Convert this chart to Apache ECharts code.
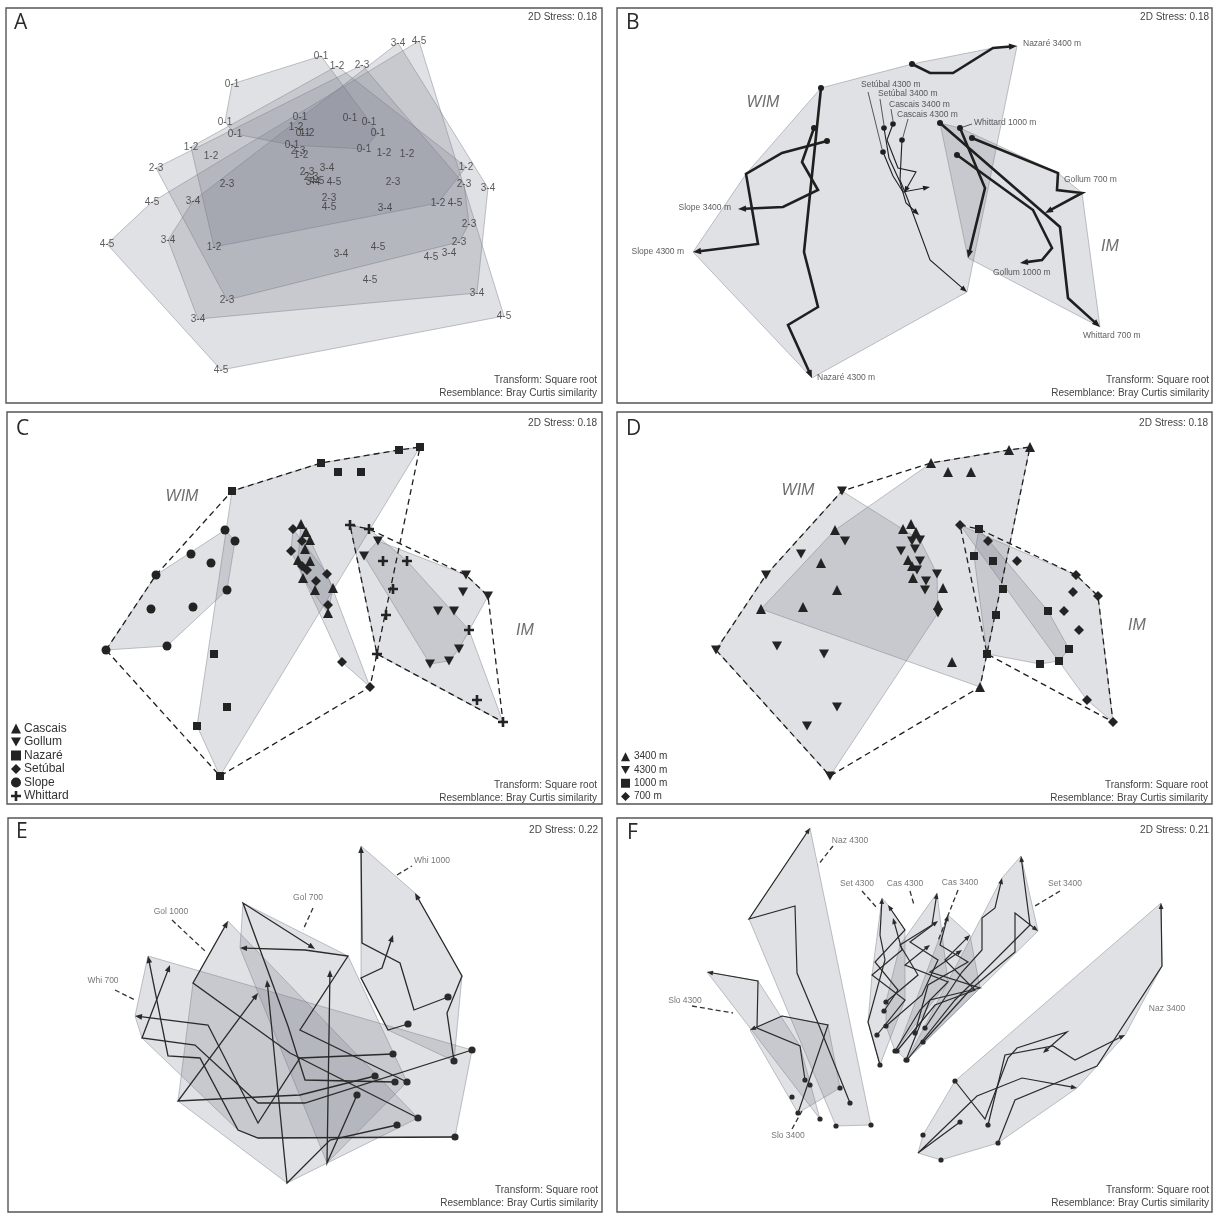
<!DOCTYPE html>
<html><head><meta charset="utf-8">
<script src="https://cdn.jsdelivr.net/npm/echarts@6/dist/echarts.min.js"></script>
<style>html,body{margin:0;padding:0;background:#fff}#c{width:1215px;height:1214px}</style>
</head><body><div id="c"></div><script>
// ---------------- DATA (ordination coordinates) ----------------
// Panel A: sediment layer labels
const A_GROUPS = ['0-1','1-2','2-3','3-4','4-5'];
const A_01 = [[232,84],[225,122],[235,134],[321,56],[350,118],[369,122],[378,133],[364,149],[300,117],[292,145],[303,133]];
const A_12 = [[191,147],[211,156],[214,247],[337,66],[384,153],[407,154],[466,167],[438,203],[296,127],[301,155],[307,133]];
const A_23 = [[156,168],[227,184],[227,300],[362,65],[393,182],[464,184],[469,224],[459,242],[329,198],[298,151],[307,172],[311,177]];
const A_34 = [[193,201],[168,240],[198,319],[398,43],[327,168],[385,208],[488,188],[449,253],[341,254],[477,293],[313,182]];
const A_45 = [[152,202],[107,244],[221,370],[419,41],[334,182],[329,207],[455,203],[431,257],[378,247],[370,280],[504,316],[317,181]];

// Panel B: trajectories (0-1 -> 4-5)
const B_NAMES = ['Nazaré 3400 m','Nazaré 4300 m','Slope 3400 m','Slope 4300 m','Setúbal 3400 m','Setúbal 4300 m','Cascais 3400 m','Cascais 4300 m','Gollum 700 m','Gollum 1000 m','Whittard 700 m','Whittard 1000 m'];
const B_NAZ3400 = [[912,64],[930,73],[953,73],[993,48],[1017,46]];
const B_NAZ4300 = [[821,88],[804,252],[818,307],[788,325],[812,378]];
const B_SLO3400 = [[814,128],[802,162],[818,190],[783,207],[738,209]];
const B_SLO4300 = [[827,141],[782,153],[746,174],[758,244],[693,252]];
const B_SET3400 = [[884,128],[889,158],[900,182],[906,203],[919,215]];
const B_SET4300 = [[883,152],[893,176],[903,192],[930,187]];
const B_CAS3400 = [[893,124],[887,140],[898,168],[916,172],[904,193]];
const B_CAS4300 = [[902,140],[900,180],[908,200],[930,260],[967,292]];
const B_GOL700 = [[972,138],[1058,173],[1057,190],[1082,193],[1045,213]];
const B_GOL1000 = [[957,155],[1033,210],[1052,248],[1042,260],[1020,263]];
const B_WHI700 = [[940,123],[1060,227],[1068,298],[1100,327]];
const B_WHI1000 = [[960,128],[985,188],[968,258]];
const B_LABEL_AT = [[1023,44],[817,378],[731,208],[684,252],[878,94],[861,85],[889,105],[897,115],[1064,180],[993,273],[1083,336],[974,123]];
const B_LEADERS = [[[868,92],[882,149]],[[880,99],[884,125]],[[891,109],[893,121]],[[908,119],[903,137]],[[972,124],[963,127]]];

// Panels C & D: sample points by site and depth
const CD_SLO_3400 = [[225,530],[211,563],[227,590],[151,609],[193,607]];
const CD_SLO_4300 = [[235,541],[191,554],[156,575],[106,650],[167,646]];
const CD_NAZ_3400 = [[321,463],[338,472],[361,472],[399,450],[420,447]];
const CD_NAZ_4300 = [[232,491],[214,654],[227,707],[197,726],[220,776]];
const CD_CAS_3400 = [[301,524],[298,560],[333,588],[306,532],[303,578]];
const CD_CAS_4300 = [[310,540],[310,561],[315,590],[328,613],[305,549]];
const CD_SET_3400 = [[293,529],[302,566],[328,605],[342,662],[370,687]];
const CD_SET_4300 = [[302,541],[291,551],[327,574],[316,581],[307,570]];
const CD_GOL_700 = [[378,541],[466,575],[463,592],[488,596],[454,611]];
const CD_GOL_1000 = [[364,556],[438,611],[459,649],[430,664],[449,661]];
const CD_WHI_700 = [[350,525],[407,561],[469,630],[477,700],[503,722]];
const CD_WHI_1000 = [[369,529],[383,561],[393,589],[386,615],[377,654]];
const C_SITES = ['Cascais','Gollum','Nazaré','Setúbal','Slope','Whittard'];
const D_DEPTHS = ['3400 m','4300 m','1000 m','700 m'];

// Panel E: trajectories per canyon/depth
const E_GROUPS = ['Whi 1000','Gol 700','Gol 1000','Whi 700'];
const E_WHI1000 = [[[454,1061],[447,1013],[462,976],[453,960],[415,893]],[[448,997],[414,1010],[400,963],[362,943],[361,846]],[[408,1024],[388,1030],[361,978],[382,968],[393,935]]];
const E_GOL700 = [[[395,1082],[305,1080],[288,1026],[243,903],[315,949]],[[407,1082],[300,1030],[348,956],[305,950],[240,948]],[[357,1095],[327,1163],[330,970]]];
const E_GOL1000 = [[[418,1118],[290,1053],[193,983],[228,921]],[[375,1076],[300,1095],[178,1101],[258,993]],[[397,1125],[330,1140],[287,1183],[267,980]]];
const E_WHI700 = [[[455,1137],[258,1138],[238,1130],[200,1058],[168,1056],[148,956]],[[472,1050],[305,1103],[258,1103],[195,1045],[142,1038],[170,965]],[[393,1054],[300,1058],[258,1123],[208,1025],[135,1016]]];
const E_LABEL_AT = [[432,861],[308,898],[171,912],[103,981]];
const E_LEADERS = [[[397,875],[412,866]],[[313,908],[303,930]],[[172,920],[205,951]],[[115,990],[135,1000]]];

// Panel F
const F_GROUPS = ['Naz 4300','Set 4300','Cas 4300','Cas 3400','Set 3400','Slo 4300','Slo 3400','Naz 3400'];
const F_NAZ4300 = [[[850,1103],[818,1023],[797,973],[795,906],[749,919],[810,828]],[[836,1126]],[[871,1125]]];
const F_SET4300 = [[[880,1065],[868,1022],[885,960],[880,935],[882,898]],[[877,1035],[905,1000],[872,975],[902,950],[893,918]],[[884,1011],[898,990],[875,962],[905,930],[888,905]]];
const F_CAS4300 = [[[886,1002],[918,975],[900,945],[932,925],[937,893]],[[886,1026],[922,995],[938,960],[910,942],[938,921]],[[895,1051],[920,1010],[948,982],[905,965],[930,945]]];
const F_CAS3400 = [[[897,1051],[935,1005],[975,990],[945,960],[970,935]],[[906,1060],[930,1000],[980,988],[930,972],[962,950]],[[915,1033],[928,985],[968,962],[940,945],[948,915]]];
const F_SET3400 = [[[925,1028],[962,972],[982,950],[982,918],[995,908],[1002,878]],[[923,1042],[970,990],[1015,952],[1015,913],[1038,931]],[[907,1060],[955,1000],[1000,955],[1030,925],[1021,856]]];
const F_SLO4300 = [[[805,1080],[800,1046],[757,1028],[758,981],[707,972]],[[810,1085]],[[820,1119]]];
const F_SLO3400 = [[[798,1113],[828,1025],[782,1016],[750,1030]],[[792,1097]],[[840,1088]]];
const F_NAZ3400 = [[[998,1143],[1015,1100],[1097,1066],[1162,966],[1161,903]],[[960,1122],[918,1153],[977,1096],[1022,1078],[1077,1088]],[[955,1081],[985,1119],[1008,1058],[1017,1048],[1067,1032],[1043,1053]],[[988,1125],[1005,1055],[1053,1046],[1075,1060],[1125,1035]],[[941,1160]],[[923,1135]]];
const F_LABEL_AT = [[850,841],[857,884],[905,884],[960,883],[1065,884],[685,1001],[788,1136],[1167,1009]];
const F_LEADERS = [[[833,846],[818,865]],[[862,891],[877,908]],[[910,891],[914,905]],[[958,890],[938,941]],[[1060,891],[1035,906]],[[692,1006],[733,1013]],[[792,1129],[802,1111]]];

const STRESS = ['0.18','0.18','0.18','0.18','0.22','0.21'];

// ---------------- STYLE / HELPERS ----------------
const FONT = "'Liberation Sans', Arial, sans-serif";
const HULL = {fill:'rgba(112,118,134,0.22)', stroke:'rgba(120,125,138,0.45)', lineWidth:1};
const DASH = {fill:'none', stroke:'#1e1e1e', lineWidth:1.3, lineDash:[6,4]};
const INK = '#232323';

function convexHull(points){
  const p = points.map(q=>q.slice()).sort((a,b)=>a[0]-b[0]||a[1]-b[1]);
  const cross=(o,a,b)=>(a[0]-o[0])*(b[1]-o[1])-(a[1]-o[1])*(b[0]-o[0]);
  const lo=[],up=[];
  for(const q of p){while(lo.length>=2&&cross(lo[lo.length-2],lo[lo.length-1],q)<=0)lo.pop();lo.push(q);}
  for(let i=p.length-1;i>=0;i--){const q=p[i];while(up.length>=2&&cross(up[up.length-2],up[up.length-1],q)<=0)up.pop();up.push(q);}
  up.pop();lo.pop();return lo.concat(up);
}
const flat = arr => arr.reduce((a,b)=>a.concat(b),[]);

const grids=[], xAxes=[], yAxes=[], series=[];
function panel(box, xr, yr){
  const i=grids.length;
  grids.push({left:box[0],top:box[1],width:box[2],height:box[3],show:true,borderColor:'#555',borderWidth:1.4,backgroundColor:'#fff'});
  xAxes.push({type:'value',gridIndex:i,min:xr[0],max:xr[1],show:false});
  yAxes.push({type:'value',gridIndex:i,min:yr[0],max:yr[1],inverse:true,show:false});
  return i;
}
function polySeries(gi, pts, style, z){
  const hull = convexHull(pts);
  return {type:'custom',xAxisIndex:gi,yAxisIndex:gi,silent:true,z:z||2,animation:false,
    data:[hull[0]],
    renderItem:(p,api)=>({type:'polygon',shape:{points:hull.map(q=>api.coord(q))},style:Object.assign({},style)})};
}
function trajSeries(gi, paths, o){
  return {type:'custom',xAxisIndex:gi,yAxisIndex:gi,silent:true,z:o.z||5,animation:false,
    data:paths.map((p,k)=>[p[0][0],p[0][1],k]),
    renderItem:(params,api)=>{
      const pts = paths[params.dataIndex].map(q=>api.coord(q));
      const ch=[];
      if(pts.length>1){
        const a=pts[pts.length-2], b=pts[pts.length-1];
        const ang=Math.atan2(b[1]-a[1],b[0]-a[0]);
        const L=o.arrowL, W=o.arrowW;
        const bx=b[0]-L*Math.cos(ang), by=b[1]-L*Math.sin(ang);
        const line=pts.slice(0,-1).concat([[bx+1.5*Math.cos(ang),by+1.5*Math.sin(ang)]]);
        ch.push({type:'polyline',shape:{points:line},style:{stroke:o.color,lineWidth:o.width,fill:null,lineJoin:'miter'}});
        ch.push({type:'polygon',shape:{points:[b,[bx+W*Math.sin(ang),by-W*Math.cos(ang)],[bx-W*Math.sin(ang),by+W*Math.cos(ang)]]},style:{fill:o.color}});
      }
      ch.push({type:'circle',shape:{cx:pts[0][0],cy:pts[0][1],r:o.dot},style:{fill:o.color}});
      return {type:'group',children:ch};
    }};
}
function leaderSeries(gi, segs, style){
  return {type:'custom',xAxisIndex:gi,yAxisIndex:gi,silent:true,z:6,animation:false,
    data:segs.map(s=>s[0]),
    renderItem:(params,api)=>{const s=segs[params.dataIndex];const a=api.coord(s[0]),b=api.coord(s[1]);
      return {type:'line',shape:{x1:a[0],y1:a[1],x2:b[0],y2:b[1]},style:Object.assign({},style)};}};
}
function textSeries(gi, pts, texts, o){
  return {type:'scatter',xAxisIndex:gi,yAxisIndex:gi,silent:true,z:o.z||10,animation:false,
    symbolSize:1,itemStyle:{color:'rgba(0,0,0,0)'},
    data:pts.map((p,i)=>{const d={name:texts[i],value:p}; if(o.aligns) d.label={align:o.aligns[i]}; return d;}),
    label:{show:true,position:'inside',formatter:pp=>pp.name,align:o.align||'center',verticalAlign:'middle',
      fontSize:o.size,fontFamily:o.font||FONT,color:o.color||'#333',fontStyle:o.style||'normal'},
    labelLayout:{hideOverlap:false},emphasis:{disabled:true}};
}
function scatterSeries(gi, name, pts, symbol, size){
  return {type:'scatter',name:name,xAxisIndex:gi,yAxisIndex:gi,z:8,animation:false,
    symbol:symbol,symbolSize:size,itemStyle:{color:INK,opacity:1},data:pts,emphasis:{disabled:true}};
}

// ---------------- PANELS ----------------
// A
const gA = panel([6,8,596,395],[6,602],[8,403]);
const A_SETS=[A_01,A_12,A_23,A_34,A_45];
A_SETS.forEach(s=>series.push(polySeries(gA,s,HULL)));
A_SETS.forEach((s,i)=>series.push(textSeries(gA,s,s.map(()=>A_GROUPS[i]),{size:10,color:'#333'})));

// B
const gB = panel([617,8,595,395],[617,1212],[8,403]);
const B_PATHS=[B_NAZ3400,B_NAZ4300,B_SLO3400,B_SLO4300,B_SET3400,B_SET4300,B_CAS3400,B_CAS4300,B_GOL700,B_GOL1000,B_WHI700,B_WHI1000];
series.push(polySeries(gB,flat(B_PATHS.slice(0,8)),HULL));
series.push(polySeries(gB,flat(B_PATHS.slice(8)),HULL));
series.push(trajSeries(gB,[B_NAZ3400,B_NAZ4300,B_SLO3400,B_SLO4300,B_GOL700,B_GOL1000,B_WHI700,B_WHI1000],{color:'#1f1f1f',width:2.6,dot:3,arrowL:8,arrowW:3.2}));
series.push(trajSeries(gB,[B_SET3400,B_SET4300,B_CAS3400,B_CAS4300],{color:'#1f1f1f',width:1.1,dot:2.8,arrowL:7,arrowW:2.6}));
series.push(leaderSeries(gB,B_LEADERS,{stroke:'#333',lineWidth:0.8}));
series.push(textSeries(gB,B_LABEL_AT,B_NAMES,{size:8.5,color:'#333',aligns:['left','left','right','right','left','left','left','left','left','left','left','left']}));
series.push(textSeries(gB,[[763,103],[1110,247]],['WIM','IM'],{size:16,color:'#4a4a4a',style:'italic'}));

// C
const gC = panel([7,412,595,392],[7,602],[412,804]);
const C_PTS = {
  'Cascais': CD_CAS_3400.concat(CD_CAS_4300),
  'Gollum': CD_GOL_700.concat(CD_GOL_1000),
  'Nazaré': CD_NAZ_3400.concat(CD_NAZ_4300),
  'Setúbal': CD_SET_3400.concat(CD_SET_4300),
  'Slope': CD_SLO_3400.concat(CD_SLO_4300),
  'Whittard': CD_WHI_700.concat(CD_WHI_1000)
};
const SYM = {
  up:['triangle',10], down:['path://M0,0L10,0L5,9Z',[10,9]], sq:['rect',8], dia:['diamond',10], dot:['circle',9],
  plus:['path://M3.7,0H6.3V3.7H10V6.3H6.3V10H3.7V6.3H0V3.7H3.7Z',10]
};
const C_SYM = {'Cascais':SYM.up,'Gollum':SYM.down,'Nazaré':SYM.sq,'Setúbal':SYM.dia,'Slope':SYM.dot,'Whittard':SYM.plus};
const WIM_PTS = flat([CD_SLO_3400,CD_SLO_4300,CD_NAZ_3400,CD_NAZ_4300,CD_CAS_3400,CD_CAS_4300,CD_SET_3400,CD_SET_4300]);
const IM_PTS = flat([CD_GOL_700,CD_GOL_1000,CD_WHI_700,CD_WHI_1000]);
C_SITES.forEach(s=>series.push(polySeries(gC,C_PTS[s],HULL)));
series.push(polySeries(gC,WIM_PTS,DASH,3));
series.push(polySeries(gC,IM_PTS,DASH,3));
C_SITES.forEach(s=>series.push(scatterSeries(gC,s,C_PTS[s],C_SYM[s][0],C_SYM[s][1])));
series.push(textSeries(gC,[[182,497],[525,631]],['WIM','IM'],{size:16,color:'#4a4a4a',style:'italic'}));

// D (same ordination as C)
const gD = panel([617,412,595,392],[7,602],[412,804]);
const D_PTS = {
  '3400 m': flat([CD_SLO_3400,CD_NAZ_3400,CD_CAS_3400,CD_SET_3400]),
  '4300 m': flat([CD_SLO_4300,CD_NAZ_4300,CD_CAS_4300,CD_SET_4300]),
  '1000 m': CD_GOL_1000.concat(CD_WHI_1000),
  '700 m': CD_GOL_700.concat(CD_WHI_700)
};
const D_SYM = {'3400 m':SYM.up,'4300 m':SYM.down,'1000 m':SYM.sq,'700 m':SYM.dia};
D_DEPTHS.forEach(d=>series.push(polySeries(gD,D_PTS[d],HULL)));
series.push(polySeries(gD,WIM_PTS,DASH,3));
series.push(polySeries(gD,IM_PTS,DASH,3));
D_DEPTHS.forEach(d=>series.push(scatterSeries(gD,d,D_PTS[d],D_SYM[d][0],D_SYM[d][1])));
series.push(textSeries(gD,[[188,491],[527,626]],['WIM','IM'],{size:16,color:'#4a4a4a',style:'italic'}));

// E
const gE = panel([8,818,594,394],[8,602],[818,1212]);
const E_SETS=[E_WHI1000,E_GOL700,E_GOL1000,E_WHI700];
E_SETS.forEach(s=>series.push(polySeries(gE,flat(s),HULL)));
E_SETS.forEach(s=>series.push(trajSeries(gE,s,{color:'#2a2a2a',width:1.3,dot:3.6,arrowL:7,arrowW:2.8})));
series.push(leaderSeries(gE,E_LEADERS,{stroke:'#333',lineWidth:1.3,lineDash:[5,3]}));
series.push(textSeries(gE,E_LABEL_AT,E_GROUPS,{size:8.5,color:'#555'}));

// F
const gF = panel([617,818,595,394],[617,1212],[818,1212]);
const F_SETS=[F_NAZ4300,F_SET4300,F_CAS4300,F_CAS3400,F_SET3400,F_SLO4300,F_SLO3400,F_NAZ3400];
F_SETS.forEach(s=>series.push(polySeries(gF,flat(s),HULL)));
F_SETS.forEach(s=>series.push(trajSeries(gF,s,{color:'#2a2a2a',width:1.2,dot:2.6,arrowL:6,arrowW:2.4})));
series.push(leaderSeries(gF,F_LEADERS,{stroke:'#333',lineWidth:1.3,lineDash:[5,3]}));
series.push(textSeries(gF,F_LABEL_AT,F_GROUPS,{size:8.5,color:'#555'}));

// ---------------- FIXED TEXT ----------------
const BOX_RIGHT=[597,1209,597,1208,598,1209];
const BOX_TOP=[17,17,423,423,830,830];
const BOX_BOT=[393,393,798,798,1203,1203];
const LETTERS=[['A',14,13],['B',626,13],['C',16,419],['D',626,419],['E',16,822],['F',627,823]];
const graphics=[];
LETTERS.forEach((l,i)=>{
  graphics.push({type:'text',x:l[1],y:l[2],silent:true,style:{text:l[0],fontSize:21,fontFamily:"'Open Sans', 'Liberation Sans', sans-serif",fill:'#2a2a2a'}});
  graphics.push({type:'text',x:BOX_RIGHT[i],y:BOX_TOP[i],silent:true,style:{text:'2D Stress: '+STRESS[i],fontSize:10,fontFamily:FONT,fill:'#444',textAlign:'right',textVerticalAlign:'middle'}});
  graphics.push({type:'text',x:BOX_RIGHT[i],y:BOX_BOT[i]-13,silent:true,style:{text:'Transform: Square root',fontSize:10,fontFamily:FONT,fill:'#444',textAlign:'right',textVerticalAlign:'middle'}});
  graphics.push({type:'text',x:BOX_RIGHT[i],y:BOX_BOT[i],silent:true,style:{text:'Resemblance: Bray Curtis similarity',fontSize:10,fontFamily:FONT,fill:'#444',textAlign:'right',textVerticalAlign:'middle'}});
});

const chart = echarts.init(document.getElementById('c'),null,{renderer:'canvas'});
chart.setOption({
  animation:false,
  backgroundColor:'#fff',
  grid:grids, xAxis:xAxes, yAxis:yAxes,
  legend:[
    {data:C_SITES,orient:'vertical',left:11,top:722,itemWidth:10,itemHeight:10,itemGap:0.5,selectedMode:false,padding:0,
     textStyle:{fontSize:12,fontFamily:FONT,color:'#333',lineHeight:13,padding:[0,0,0,-2]}},
    {data:D_DEPTHS,orient:'vertical',left:621,top:751,itemWidth:9,itemHeight:9,itemGap:2,selectedMode:false,padding:0,
     textStyle:{fontSize:10,fontFamily:FONT,color:'#333',lineHeight:11.3,padding:[0,0,0,-1]}}
  ],
  graphic:graphics,
  series:series
});
</script></body></html>
